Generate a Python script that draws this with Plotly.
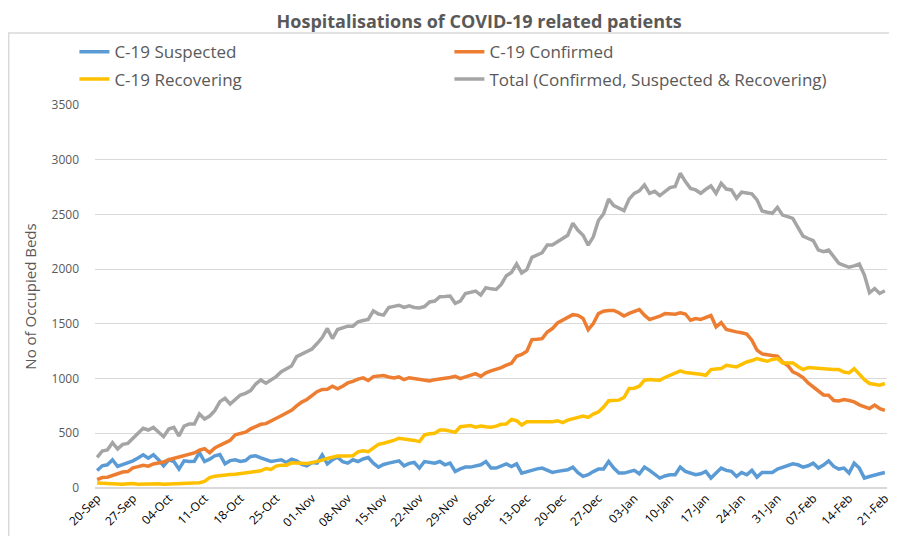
import pandas as pd
import plotly.graph_objects as go

# Daily occupied beds, 20-Sep to 21-Feb
dates = pd.date_range("2020-09-20", "2021-02-21", freq="D")

suspected = [
    160, 203, 212, 258, 197, 212, 227, 248, 275, 303, 273, 303, 258, 203, 258, 242, 173, 248, 242, 245,
    324, 242, 264, 294, 305, 221, 250, 258, 242, 251, 288, 294, 275, 258, 242, 250, 258, 233, 264, 248,
    215, 203, 233, 227, 303, 221, 258, 282, 240, 227, 258, 242, 265, 279, 227, 191, 215, 227, 235, 248,
    203, 225, 233, 182, 242, 235, 227, 242, 212, 227, 152, 175, 191, 191, 205, 212, 242, 182, 182, 200,
    221, 197, 221, 136, 150, 167, 175, 182, 165, 142, 152, 160, 167, 191, 140, 106, 121, 150, 173, 173,
    242, 182, 136, 136, 150, 161, 130, 191, 161, 130, 91, 110, 121, 121, 191, 152, 136, 121, 130, 152,
    91, 136, 182, 161, 152, 106, 142, 121, 161, 100, 142, 142, 142, 173, 190, 203, 221, 212, 191, 203,
    227, 182, 210, 248, 197, 173, 182, 136, 227, 182, 91, 105, 121, 130, 142,
]

confirmed = [
    76, 95, 98, 115, 135, 146, 150, 185, 195, 207, 200, 220, 228, 237, 258, 270, 285, 295, 304, 320,
    345, 359, 323, 365, 390, 415, 435, 487, 497, 510, 540, 565, 582, 588, 610, 640, 660, 685, 710, 750,
    785, 809, 840, 880, 900, 903, 930, 906, 930, 960, 975, 995, 1006, 982, 1018, 1020, 1027, 1015, 1005, 1015,
    990, 1008, 1000, 996, 985, 978, 990, 995, 1000, 1010, 1020, 1000, 1015, 1030, 1045, 1020, 1052, 1070, 1082, 1100,
    1122, 1140, 1204, 1220, 1250, 1356, 1360, 1365, 1426, 1457, 1508, 1532, 1560, 1584, 1578, 1550, 1447, 1502, 1593, 1615,
    1623, 1623, 1602, 1572, 1595, 1610, 1630, 1579, 1540, 1555, 1570, 1594, 1590, 1588, 1600, 1590, 1533, 1549, 1540, 1560,
    1576, 1473, 1512, 1448, 1435, 1427, 1418, 1406, 1351, 1260, 1225, 1214, 1210, 1205, 1150, 1120, 1062, 1040, 1010, 960,
    924, 880, 850, 848, 800, 796, 808, 800, 787, 760, 740, 726, 757, 726, 710,
]

recovering = [
    46, 42, 40, 38, 36, 34, 38, 40, 34, 36, 40, 40, 38, 34, 36, 40, 40, 42, 46, 46,
    49, 60, 95, 107, 115, 123, 123, 125, 130, 132, 141, 150, 157, 178, 169, 200, 209, 209, 230, 228,
    224, 224, 232, 240, 255, 270, 285, 292, 292, 293, 295, 330, 341, 332, 368, 399, 409, 420, 435, 455,
    450, 445, 435, 424, 485, 495, 500, 530, 530, 520, 509, 560, 565, 570, 555, 567, 560, 555, 565, 582,
    585, 627, 615, 576, 606, 606, 608, 609, 606, 606, 615, 597, 620, 630, 645, 658, 645, 676, 695, 740,
    797, 800, 803, 827, 909, 912, 930, 985, 991, 988, 985, 1010, 1030, 1050, 1070, 1055, 1052, 1046, 1040, 1030,
    1082, 1088, 1091, 1122, 1115, 1107, 1130, 1152, 1165, 1183, 1170, 1158, 1175, 1183, 1143, 1143, 1143, 1110, 1082, 1100,
    1095, 1091, 1085, 1082, 1082, 1082, 1060, 1052, 1091, 1040, 990, 955, 945, 940, 955,
]

total = [
    280, 338, 347, 414, 356, 399, 408, 450, 500, 545, 530, 554, 514, 469, 539, 554, 475, 566, 585, 585,
    676, 630, 658, 707, 789, 820, 768, 811, 850, 865, 890, 950, 987, 957, 990, 1018, 1063, 1090, 1115, 1200,
    1224, 1245, 1270, 1320, 1375, 1458, 1366, 1448, 1465, 1479, 1479, 1518, 1530, 1540, 1619, 1590, 1580, 1650, 1660, 1670,
    1650, 1664, 1650, 1646, 1658, 1700, 1708, 1748, 1750, 1754, 1688, 1708, 1778, 1790, 1800, 1763, 1830, 1820, 1815, 1860,
    1940, 1970, 2048, 1965, 1995, 2108, 2130, 2150, 2220, 2220, 2250, 2280, 2310, 2420, 2355, 2310, 2220, 2295, 2445, 2505,
    2640, 2580, 2555, 2535, 2640, 2693, 2715, 2770, 2693, 2711, 2672, 2710, 2745, 2755, 2876, 2800, 2738, 2724, 2693, 2730,
    2760, 2693, 2784, 2732, 2724, 2648, 2703, 2695, 2688, 2633, 2532, 2520, 2510, 2565, 2494, 2480, 2464, 2382, 2302, 2280,
    2260, 2175, 2160, 2175, 2110, 2053, 2035, 2017, 2030, 2047, 1946, 1784, 1823, 1778, 1802,
]

tick_dates = dates[::7]
tick_labels = [d.strftime("%d-%b") for d in tick_dates]

# one legend box per entry so the 2x2 grid sits like the Excel one
series = [
    ("C-19 Suspected", suspected, "#5B9BD5", "legend"),
    ("C-19 Confirmed", confirmed, "#ED7D31", "legend2"),
    ("C-19 Recovering", recovering, "#FFC000", "legend3"),
    ("Total (Confirmed, Suspected & Recovering)", total, "#A5A5A5", "legend4"),
]

fig = go.Figure()
for name, vals, col, leg in series:
    fig.add_trace(go.Scatter(
        x=dates, y=vals, name=name, mode="lines", legend=leg,
        line=dict(color=col, width=3.5), showlegend=True,
    ))

legend_style = dict(
    orientation="h", xanchor="left", yanchor="middle",
    font=dict(size=17, color="#595959"), itemwidth=30,
    bgcolor="rgba(0,0,0,0)",
)
col1, col2 = -0.026, 0.4475
row1, row2 = 1.138, 1.067

# page body has an 8px margin, so the figure is a bit smaller than the window
fig.update_layout(
    width=889, height=528,
    showlegend=True,
    margin=dict(l=87, r=10, t=97, b=48, autoexpand=False),
    plot_bgcolor="white", paper_bgcolor="white",
    font=dict(family="Open Sans, Calibri, sans-serif", color="#595959"),
    title=dict(
        text="<b>Hospitalisations of COVID-19 related patients</b>",
        x=0.530, xanchor="center", y=0.975, yanchor="middle",
        font=dict(size=18, color="#595959"),
    ),
    legend=dict(x=col1, y=row1, **legend_style),
    legend2=dict(x=col2, y=row1, **legend_style),
    legend3=dict(x=col1, y=row2, **legend_style),
    legend4=dict(x=col2, y=row2, **legend_style),
    xaxis=dict(
        range=[dates[0] - pd.Timedelta(hours=10), dates[-1] + pd.Timedelta(hours=10)],
        tickvals=tick_dates, ticktext=tick_labels, tickangle=-45,
        tickfont=dict(size=12, color="#000000"),
        showgrid=False, zeroline=False, showline=False, automargin=False,
    ),
    yaxis=dict(
        range=[0, 3500], dtick=500, automargin=False,
        title=dict(text="No of Occupied Beds", font=dict(size=15, color="#595959"), standoff=11),
        tickfont=dict(size=12, color="#595959"), ticklabelstandoff=15,
        gridcolor="#D9D9D9", gridwidth=1, zeroline=True, zerolinecolor="#D9D9D9",
        showline=False,
    ),
    shapes=[dict(
        type="rect", xref="paper", yref="paper",
        x0=-0.109, x1=1.02, y0=-0.2, y1=1.188,
        line=dict(color="#D9D9D9", width=1.5), fillcolor="rgba(0,0,0,0)", layer="below",
    )],
)

fig.write_html("out.html")
